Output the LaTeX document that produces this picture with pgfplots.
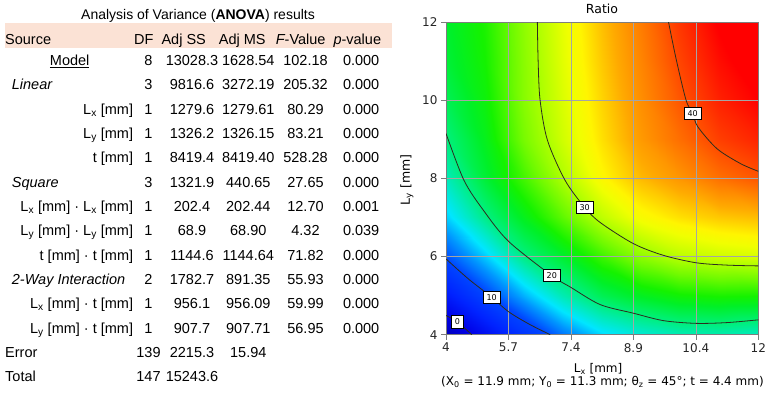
\documentclass[border=0pt]{standalone}
\usepackage{fontspec}
\setmainfont{Liberation Sans}
\newfontfamily\plotfont{DejaVu Sans}
\usepackage{pgfplots}
\pgfplotsset{compat=1.18}
\definecolor{hdr}{RGB}{251,226,213}
\definecolor{cline}{RGB}{45,45,30}
\definecolor{gridc}{RGB}{165,165,165}
\definecolor{axc}{RGB}{125,125,125}
\pgfplotsset{colormap={ratio}{rgb255(0pt)=(0,0,180) rgb255(4pt)=(0,0,230) rgb255(9pt)=(0,35,255) rgb255(14pt)=(0,70,255) rgb255(17pt)=(0,150,255) rgb255(19.5pt)=(0,230,255) rgb255(22pt)=(0,235,180) rgb255(24.5pt)=(0,240,105) rgb255(26.8pt)=(0,240,40) rgb255(28.5pt)=(20,242,0) rgb255(31.5pt)=(110,250,0) rgb255(34pt)=(175,255,0) rgb255(36.5pt)=(240,255,0) rgb255(37.5pt)=(255,245,0) rgb255(40pt)=(255,170,0) rgb255(43pt)=(255,100,0) rgb255(45pt)=(255,50,0) rgb255(47pt)=(255,0,0) rgb255(50pt)=(255,0,0)}}
\tikzset{lbl/.style={draw=black, fill=white, line width=0.6pt, inner xsep=3.4pt, inner ysep=3pt, font=\plotfont\fontsize{8}{10}\selectfont}}
\newcommand{\vals}[6]{%
 \node[anchor=base,inner sep=0pt] at (148.5,#1) {#2};
 \node[anchor=base,inner sep=0pt] at (192,#1) {#3};
 \node[anchor=base,inner sep=0pt] at (248.3,#1) {#4};
 \node[anchor=base,inner sep=0pt] at (305.5,#1) {#5};
 \node[anchor=base east,inner sep=0pt] at (379.5,#1) {#6};}
\newcommand{\src}[2]{\node[anchor=base east,inner sep=0pt] at (133.3,#1) {#2};}
\begin{document}
\begin{tikzpicture}[x=1pt,y=1pt]
\useasboundingbox (0,0) rectangle (767,399);
% ---------- ANOVA table ----------
\begin{scope}[font=\fontsize{14.5}{17}\selectfont]
\fill[hdr] (5,350.7) rectangle (392,375.7);
\node[anchor=base,inner sep=0pt,font=\fontsize{14}{17}\selectfont] at (198,379) {Analysis of Variance (\textbf{ANOVA}) results};
\node[anchor=base west,inner sep=0pt] at (5,354.7) {Source};
\node[anchor=base,inner sep=0pt] at (143.8,354.7) {DF};
\node[anchor=base,inner sep=0pt] at (183.7,354.7) {Adj SS};
\node[anchor=base,inner sep=0pt] at (242.3,354.7) {Adj MS};
\node[anchor=base,inner sep=0pt] at (300.7,354.7) {\itshape F\upshape-Value};
\node[anchor=base,inner sep=0pt] at (357.3,354.7) {\itshape p\upshape-value};
\node[anchor=base,inner sep=0pt] at (69.7,333.3) {\underline{Model}};
\vals{333.3}{8}{13028.3}{1628.54}{102.18}{0.000}
\node[anchor=base west,inner sep=0pt] at (11.7,309) {\itshape Linear};
\vals{309}{3}{9816.6}{3272.19}{205.32}{0.000}
\src{284.7}{L\textsubscript{x} [mm]}
\vals{284.7}{1}{1279.6}{1279.61}{80.29}{0.000}
\src{260.4}{L\textsubscript{y} [mm]}
\vals{260.4}{1}{1326.2}{1326.15}{83.21}{0.000}
\src{236.1}{t [mm]}
\vals{236.1}{1}{8419.4}{8419.40}{528.28}{0.000}
\node[anchor=base west,inner sep=0pt] at (11.7,211.8) {\itshape Square};
\vals{211.8}{3}{1321.9}{440.65}{27.65}{0.000}
\src{187.5}{L\textsubscript{x} [mm] · L\textsubscript{x} [mm]}
\vals{187.5}{1}{202.4}{202.44}{12.70}{0.001}
\src{163.2}{L\textsubscript{y} [mm] · L\textsubscript{y} [mm]}
\vals{163.2}{1}{68.9}{68.90}{4.32}{0.039}
\src{138.9}{t [mm] · t [mm]}
\vals{138.9}{1}{1144.6}{1144.64}{71.82}{0.000}
\node[anchor=base west,inner sep=0pt] at (11.7,114.6) {\itshape 2-Way Interaction};
\vals{114.6}{2}{1782.7}{891.35}{55.93}{0.000}
\src{90.3}{L\textsubscript{x} [mm] · t [mm]}
\vals{90.3}{1}{956.1}{956.09}{59.99}{0.000}
\src{66}{L\textsubscript{y} [mm] · t [mm]}
\vals{66}{1}{907.7}{907.71}{56.95}{0.000}
\node[anchor=base west,inner sep=0pt] at (5,41.7) {Error};
\vals{41.7}{139}{2215.3}{15.94}{}{}
\node[anchor=base west,inner sep=0pt] at (5,17.4) {Total};
\vals{17.4}{147}{15243.6}{}{}{}
\end{scope}
% ---------- contour plot ----------
\begin{axis}[
  at={(446pt,64.3pt)}, anchor=south west,
  width=312.3pt, height=312.7pt, scale only axis,
  view={0}{90},
  xmin=4, xmax=12, ymin=4, ymax=12,
  xtick={4,5.6,7.2,8.8,10.4,12}, xticklabels={4,5.7,7.4,8.9,10.4,12},
  ytick={4,6,8,10,12}, ztick=\empty,
  grid=major, grid style={gridc, line width=0.7pt},
  axis on top,
  axis line style={axc, line width=0.8pt},
  tick align=outside, major tick length=5pt, tick style={axc, line width=0.7pt},
  xtick pos=left, ytick pos=left,
  tick label style={font=\plotfont\fontsize{12}{14}\selectfont, text=black!85},
  /pgf/number format/assume math mode=true,
  colormap name=ratio, point meta min=-4, point meta max=46,
  xlabel={L\textsubscript{x} [mm]},
  xlabel style={at={(axis description cs:0.487,-0.1208)}, anchor=base, inner sep=0pt, font=\plotfont\fontsize{12}{14}\selectfont},
  ylabel={L\textsubscript{y} [mm]},
  ylabel style={at={(axis description cs:-0.1249,0.4947)}, anchor=center, inner sep=0pt, font=\plotfont\fontsize{12.5}{14}\selectfont},
]
\addplot3[surf, shader=interp, mesh/cols=9] table {
x y z
4 4 -3.7
5 4 1.8
6 4 7.3
7 4 11.7
8 4 15.0
9 4 16.8
10 4 17.9
11 4 18.1
12 4 17.6
4 5 3.7
5 5 9.4
6 5 13.8
7 5 18.0
8 5 21.2
9 5 23.0
10 5 24.2
11 5 24.6
12 5 24.5
4 6 10.3
5 6 14.6
6 6 19.6
7 6 22.5
8 6 25.8
9 6 28.7
10 6 30.4
11 6 31.1
12 6 31.5
4 7 14.8
5 7 19.5
6 7 23.3
7 7 27.0
8 7 30.6
9 7 33.0
10 7 34.2
11 7 35.0
12 7 35.4
4 8 17.8
5 8 22.3
6 8 26.1
7 8 30.0
8 8 33.3
9 8 35.5
10 8 36.9
11 8 38.5
12 8 39.6
4 9 19.8
5 9 23.3
6 9 27.9
7 9 31.3
8 9 34.2
9 9 36.7
10 9 38.6
11 9 40.5
12 9 41.6
4 10 21.2
5 10 24.0
6 10 28.5
7 10 31.7
8 10 34.6
9 10 37.2
10 10 39.6
11 10 41.7
12 10 43.0
4 11 22.2
5 11 24.5
6 11 28.6
7 11 32.0
8 11 35.0
9 11 37.6
10 11 40.3
11 11 42.5
12 11 44.0
4 12 22.6
5 12 24.8
6 12 28.8
7 12 32.2
8 12 35.3
9 12 38.0
10 12 40.9
11 12 43.2
12 12 44.6
};
\end{axis}
\begin{axis}[
  at={(446pt,64.3pt)}, anchor=south west,
  width=312.3pt, height=312.7pt, scale only axis,
  xmin=4, xmax=12, ymin=4, ymax=12, hide axis,
]
\addplot[cline, line width=0.8pt, smooth] coordinates {(4,4.49) (4.29,4.33) (4.66,4.0)};
\addplot[cline, line width=0.8pt, smooth] coordinates {(4,5.94) (4.57,5.43) (5.17,4.96) (5.6,4.59) (6.13,4.27) (6.67,4.0)};
\addplot[cline, line width=0.8pt, smooth] coordinates {(4,9.15) (4.46,7.95) (4.96,7.18) (5.6,6.39) (6.71,5.51) (7.2,5.21) (7.95,4.77) (8.8,4.55) (9.57,4.36) (10.41,4.29) (11.2,4.31) (12,4.38)};
\addplot[cline, line width=0.8pt, smooth] coordinates {(6.34,12) (6.36,11) (6.41,10.0) (6.60,8.97) (7.05,7.95) (7.55,7.26) (7.95,6.87) (8.8,6.33) (9.57,6.03) (10.41,5.84) (11.2,5.78) (12,5.76)};
\addplot[cline, line width=0.8pt, smooth] coordinates {(9.70,12) (9.90,11.03) (10.15,10.0) (10.32,9.66) (10.45,9.32) (10.94,8.76) (11.54,8.38) (12,8.18)};
\node[lbl] at (axis cs:4.29,4.33) {0};
\node[lbl] at (axis cs:5.17,4.96) {10};
\node[lbl] at (axis cs:6.71,5.51) {20};
\node[lbl] at (axis cs:7.55,7.26) {30};
\node[lbl] at (axis cs:10.32,9.66) {40};
\end{axis}
\node[anchor=base,inner sep=0pt,font=\plotfont\fontsize{12.5}{14}\selectfont] at (602,385.7) {Ratio};
\node[anchor=base,inner sep=0pt,font=\plotfont\fontsize{12}{14}\selectfont] at (602.5,13.5) {(X\textsubscript{0} = 11.9 mm; Y\textsubscript{0} = 11.3 mm; θ\textsubscript{z} = 45°; t = 4.4 mm)};
\end{tikzpicture}
\end{document}
